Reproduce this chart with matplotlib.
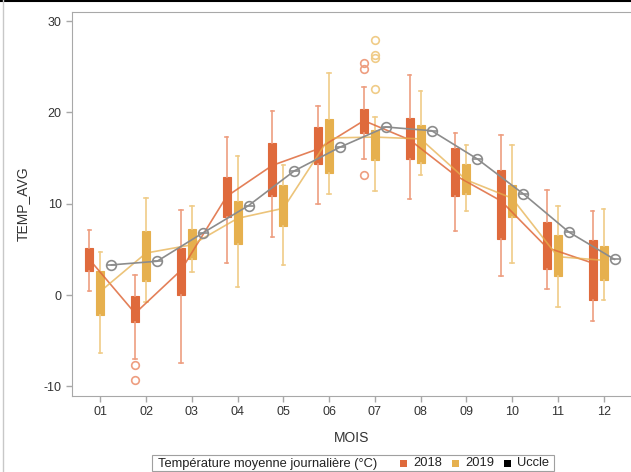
import matplotlib
matplotlib.use("Agg")
import matplotlib.pyplot as plt
from matplotlib.lines import Line2D
from matplotlib.patches import Rectangle

# months on the x axis
months = ['01', '02', '03', '04', '05', '06', '07', '08', '09', '10', '11', '12']

# 2018 daily mean temperature distribution per month
hi_2018 = [7.1, 2.2, 9.3, 17.3, 20.2, 20.7, 22.8, 24.1, 17.8, 17.5, 11.5, 9.2]
q3_2018 = [5.2, -0.1, 5.2, 12.9, 16.6, 18.4, 20.4, 19.4, 16.1, 13.7, 8.0, 6.0]
med_2018 = [3.9, -1.9, 2.8, 11.0, 14.5, 16.4, 19.0, 17.3, 13.6, 10.5, 5.4, 3.8]
q1_2018 = [2.6, -3.0, 0.0, 8.5, 10.9, 14.4, 17.7, 14.9, 10.9, 6.1, 2.9, -0.5]
lo_2018 = [0.4, -7.0, -7.4, 3.5, 6.4, 10.0, 14.9, 10.5, 7.0, 2.1, 0.7, -2.8]
mean_2018 = [3.9, -2.0, 2.7, 10.8, 14.2, 16.0, 19.1, 17.0, 13.1, 10.3, 5.2, 3.5]
out_2018 = [[], [-7.7, -9.3], [], [], [], [], [25.4, 24.8, 13.1], [], [], [], [], []]

# 2019
hi_2019 = [4.7, 10.6, 9.7, 15.2, 14.2, 24.3, 19.5, 22.4, 16.4, 16.4, 9.8, 9.4]
q3_2019 = [2.6, 7.0, 7.2, 10.3, 12.1, 19.3, 18.1, 18.6, 14.3, 12.0, 6.6, 5.4]
med_2019 = [0.5, 4.5, 5.6, 8.2, 9.8, 17.0, 17.0, 17.0, 12.8, 10.5, 4.4, 3.7]
q1_2019 = [-2.2, 1.5, 4.0, 5.6, 7.6, 13.4, 14.8, 14.5, 11.1, 8.5, 2.1, 1.6]
lo_2019 = [-6.4, -0.8, 2.5, 0.9, 3.3, 11.1, 11.4, 13.2, 9.2, 3.5, -1.3, -0.5]
mean_2019 = [0.4, 4.6, 5.5, 8.4, 9.5, 17.2, 17.3, 17.1, 12.6, 10.6, 4.2, 3.8]
out_2019 = [[], [], [], [], [], [], [27.9, 26.3, 26.0, 22.6], [], [], [], [], []]

# Uccle reference (normal)
uccle = [3.3, 3.7, 6.8, 9.8, 13.6, 16.2, 18.4, 18.0, 14.9, 11.1, 6.9, 3.9]

# legend entries
legend_title = 'Température moyenne journalière (°C)'
legend_labels = ['2018', '2019', 'Uccle']

c2018 = '#DF6A3C'
c2018_light = '#EE9E80'
c2019 = '#E6B04E'
c2019_light = '#F0CC88'
c_uccle = '#8C8C8C'
legend_colors = [c2018, c2019, 'black']

plt.rcParams['font.family'] = ['Liberation Sans', 'DejaVu Sans']
plt.rcParams['axes.unicode_minus'] = False

W, H = 631, 472


def make_stats(lo, q1, med, q3, hi, out):
    stats = []
    for i in range(len(lo)):
        stats.append({'whislo': lo[i], 'q1': q1[i], 'med': med[i],
                      'q3': q3[i], 'whishi': hi[i], 'fliers': out[i]})
    return stats


def draw_boxes(ax, stats, pos, color, light):
    ax.bxp(stats, positions=pos, widths=0.175, patch_artist=True,
           showfliers=True, capwidths=0.08,
           boxprops=dict(facecolor=color, edgecolor=color, linewidth=0.8),
           medianprops=dict(color=color, linewidth=0.8),
           whiskerprops=dict(color=light, linewidth=1.2),
           capprops=dict(color=light, linewidth=1.2),
           flierprops=dict(marker='o', markerfacecolor='none',
                           markeredgecolor=light, markersize=5.5,
                           markeredgewidth=1.2))


def px(x, y):
    # pixel position (from top-left) -> figure fraction
    return x / W, 1 - y / H


fig = plt.figure(figsize=(W / 100, H / 100), dpi=100)
ax = fig.add_axes([0.1141, 0.161, 0.886, 0.8136])

x = list(range(1, 13))
x18 = [v - 0.24 for v in x]
x19 = x
xuc = [v + 0.24 for v in x]

draw_boxes(ax, make_stats(lo_2018, q1_2018, med_2018, q3_2018, hi_2018, out_2018),
           x18, c2018, c2018_light)
draw_boxes(ax, make_stats(lo_2019, q1_2019, med_2019, q3_2019, hi_2019, out_2019),
           x19, c2019, c2019_light)

ax.plot(x18, mean_2018, color=c2018, linewidth=1.2, alpha=0.85, zorder=3)
ax.plot(x19, mean_2019, color=c2019, linewidth=1.2, alpha=0.75, zorder=3)
ax.plot(xuc, uccle, color=c_uccle, linewidth=1.2, marker='o', markersize=7,
        markerfacecolor='none', markeredgecolor=c_uccle, markeredgewidth=1.2,
        zorder=4)
ax.plot(xuc, uccle, linestyle='none', marker='_', markersize=7,
        markeredgecolor=c_uccle, markeredgewidth=1.2, zorder=4)

ax.set_xlim(0.38, 12.6)
ax.set_ylim(-11.06, 31.0)
ax.set_xticks(x)
ax.set_xticklabels(months)
ax.set_yticks([-10, 0, 10, 20, 30])

for side in ['left', 'bottom', 'top']:
    ax.spines[side].set_color('#A8A8A8')
ax.spines['right'].set_visible(False)
ax.tick_params(axis='both', colors='#A8A8A8', labelcolor='#333333',
               labelsize=9, length=4, width=1)

ax.set_xlabel('MOIS', fontsize=10, color='#333333', labelpad=9)
ax.set_ylabel('TEMP_AVG', fontsize=10, color='#333333', labelpad=10)

# legend drawn by hand: one framed row at the bottom
x0, y0 = px(152, 471)
x1, y1 = px(554, 455)
fig.add_artist(Rectangle((x0, y0), x1 - x0, y1 - y0, transform=fig.transFigure,
                         facecolor='white', edgecolor='#A0A0A0', linewidth=0.8))
tx, ty = px(158, 463.5)
fig.text(tx, ty, legend_title, fontsize=9.3, color='#222222',
         ha='left', va='center')
sq_x = [400, 452, 504]
for sx, lab, col in zip(sq_x, legend_labels, legend_colors):
    rx, ry = px(sx, 467)
    fig.add_artist(Rectangle((rx, ry), 7 / W, 7 / H, transform=fig.transFigure,
                             facecolor=col, edgecolor=col, linewidth=0))
    lx, ly = px(sx + 13, 463.5)
    fig.text(lx, ly, lab, fontsize=9.3, color='#222222', ha='left', va='center')

# thin border around the image like the export
fig.add_artist(Line2D([0, 1], [0.998, 0.998], color='black', linewidth=1.5))
fig.add_artist(Line2D([0.004, 0.004], [0, 1], color='#C8C8C8', linewidth=1))

fig.savefig('out.png', dpi=100)
